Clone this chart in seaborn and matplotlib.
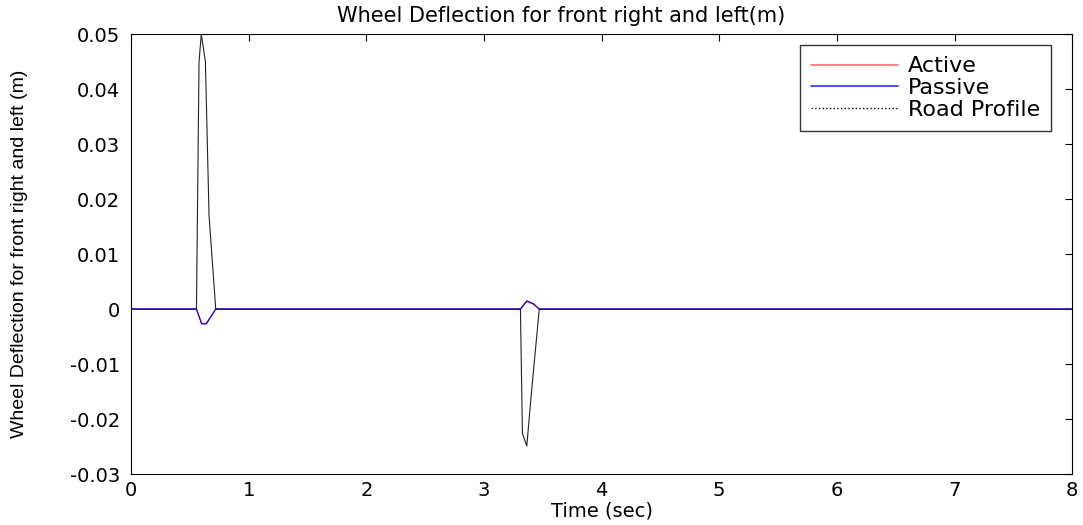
import matplotlib
matplotlib.use("Agg")
import matplotlib.pyplot as plt
import seaborn as sns

# Data
time_road = [0.0, 0.556, 0.578, 0.597, 0.632, 0.663, 0.72, 3.31, 3.327, 3.364, 3.40, 3.47, 8.0]
road_profile = [0.0, 0.0, 0.045, 0.05, 0.045, 0.017, 0.0, 0.0, -0.0226, -0.0249, -0.016, 0.0, 0.0]

time_susp = [0.0, 0.556, 0.60, 0.64, 0.72, 3.31, 3.364, 3.42, 3.47, 8.0]
passive = [0.0, 0.0, -0.0027, -0.0027, 0.0, 0.0, 0.0015, 0.001, 0.0, 0.0]
active = [0.0, 0.0, -0.0026, -0.0026, 0.0, 0.0, 0.0014, 0.0009, 0.0, 0.0]

x_ticks = [0, 1, 2, 3, 4, 5, 6, 7, 8]
y_ticks = [-0.03, -0.02, -0.01, 0, 0.01, 0.02, 0.03, 0.04, 0.05]
y_ticklabels = ["-0.03", "-0.02", "-0.01", "0", "0.01", "0.02", "0.03", "0.04", "0.05"]

sns.set_style("white")
plt.rcParams['font.family'] = ['DejaVu Sans']
plt.rcParams['text.color'] = 'black'
plt.rcParams['axes.labelcolor'] = 'black'

fig = plt.figure(figsize=(10.83, 5.25), dpi=100)
ax = fig.add_axes([0.121, 0.097, 0.869, 0.838])

sns.lineplot(x=time_susp, y=active, color="red", lw=0.8, ax=ax, label="Active",
             estimator=None, sort=False)
sns.lineplot(x=time_road, y=road_profile, color="#222222", lw=0.8, ax=ax,
             label="Road Profile", estimator=None, sort=False)
sns.lineplot(x=time_susp, y=passive, color="blue", lw=0.8, ax=ax, label="Passive",
             estimator=None, sort=False)

ax.set_xlim(0, 8)
ax.set_ylim(-0.03, 0.05)
ax.set_xticks(x_ticks)
ax.set_yticks(y_ticks)
ax.set_yticklabels(y_ticklabels)
ax.tick_params(direction="in", length=5, width=0.8, top=True, right=True,
               labelsize=14, colors="black")
ax.tick_params(axis="y", pad=8)
ax.tick_params(axis="x", pad=5)
for s in ax.spines.values():
    s.set_visible(True)
    s.set_color("black")
    s.set_linewidth(0.8)

ax.set_xlabel("Time (sec)", fontsize=14, labelpad=1)
ax.set_ylabel("Wheel Deflection for front right and left (m)", fontsize=14,
              family=["Liberation Sans Narrow", "Liberation Sans"])
ax.yaxis.set_label_coords(-0.11, 0.5)
ax.set_title("Wheel Deflection for front right and left(m)", fontsize=15, pad=9, x=0.457)

handles, labels = ax.get_legend_handles_labels()
order = [labels.index("Active"), labels.index("Passive"), labels.index("Road Profile")]
leg = ax.legend([handles[i] for i in order], [labels[i] for i in order],
                loc="upper right", bbox_to_anchor=(0.985, 0.99), fontsize=16,
                frameon=True, fancybox=False, edgecolor="black", handlelength=3.9,
                borderpad=0.5, labelspacing=0.08, handletextpad=0.45, borderaxespad=0.3)
leg.get_frame().set_linewidth(1.0)
h = leg.legend_handles
h[0].set_color("#ff7070")
h[0].set_linewidth(1.2)
h[1].set_color("#3030ff")
h[1].set_linewidth(1.2)
h[2].set_linestyle(":")
h[2].set_color("black")
h[2].set_linewidth(1.0)

fig.savefig("out.png", dpi=100, facecolor="white")
